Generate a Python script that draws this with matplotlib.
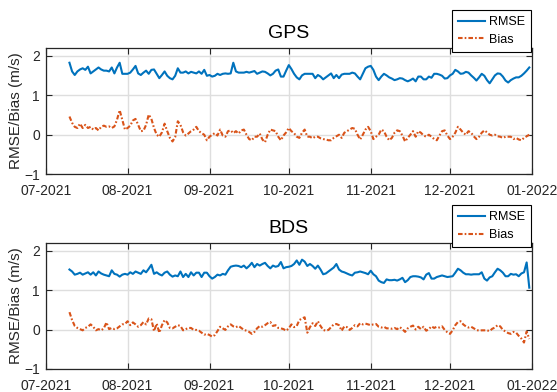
import numpy as np
import pandas as pd
import matplotlib
matplotlib.use('Agg')
import matplotlib.pyplot as plt
import matplotlib.dates as mdates

plt.rcParams['font.family'] = ['Liberation Sans', 'DejaVu Sans']

days = pd.date_range('2021-07-10', '2021-12-31', freq='D')

gps_rmse = [
    1.82, 1.60, 1.51, 1.60, 1.65, 1.68, 1.64, 1.72, 1.55, 1.60,
    1.65, 1.70, 1.65, 1.62, 1.62, 1.60, 1.70, 1.55, 1.70, 1.82,
    1.54, 1.54, 1.54, 1.57, 1.65, 1.74, 1.55, 1.51, 1.57, 1.62,
    1.54, 1.64, 1.65, 1.54, 1.43, 1.51, 1.60, 1.49, 1.43, 1.40,
    1.49, 1.68, 1.57, 1.57, 1.60, 1.55, 1.59, 1.57, 1.55, 1.60,
    1.54, 1.64, 1.49, 1.51, 1.47, 1.49, 1.54, 1.51, 1.54, 1.55,
    1.54, 1.55, 1.82, 1.60, 1.57, 1.57, 1.57, 1.59, 1.57, 1.59,
    1.61, 1.54, 1.57, 1.60, 1.59, 1.55, 1.50, 1.54, 1.62, 1.65,
    1.47, 1.47, 1.62, 1.76, 1.66, 1.54, 1.45, 1.40, 1.50, 1.54,
    1.54, 1.54, 1.54, 1.43, 1.51, 1.47, 1.40, 1.45, 1.50, 1.55,
    1.43, 1.51, 1.43, 1.52, 1.54, 1.54, 1.54, 1.57, 1.55, 1.47,
    1.40, 1.54, 1.68, 1.72, 1.74, 1.64, 1.47, 1.38, 1.47, 1.54,
    1.50, 1.45, 1.42, 1.38, 1.40, 1.43, 1.42, 1.38, 1.35, 1.38,
    1.42, 1.35, 1.47, 1.47, 1.40, 1.40, 1.47, 1.44, 1.54, 1.54,
    1.52, 1.49, 1.42, 1.43, 1.50, 1.54, 1.64, 1.60, 1.54, 1.55,
    1.59, 1.57, 1.50, 1.44, 1.37, 1.45, 1.54, 1.49, 1.38, 1.30,
    1.40, 1.50, 1.55, 1.54, 1.47, 1.37, 1.32, 1.38, 1.42, 1.45,
    1.45, 1.49, 1.55, 1.62, 1.70,
]
gps_bias = [
    0.46, 0.30, 0.20, 0.17, 0.28, 0.17, 0.25, 0.17, 0.20, 0.13,
    0.17, 0.11, 0.20, 0.23, 0.20, 0.21, 0.17, 0.21, 0.38, 0.62,
    0.38, 0.13, 0.17, 0.23, 0.36, 0.40, 0.25, 0.09, 0.10, 0.25,
    0.51, 0.40, 0.17, 0.00, -0.05, 0.06, 0.28, 0.09, -0.08, -0.17,
    -0.06, 0.34, 0.25, 0.06, -0.02, 0.03, 0.09, 0.13, 0.20, 0.09,
    0.04, 0.00, -0.14, -0.05, 0.00, 0.04, -0.02, 0.13, -0.02, -0.05,
    0.09, 0.11, 0.04, 0.09, 0.03, 0.11, 0.13, 0.00, -0.11, -0.14,
    -0.05, -0.05, 0.03, -0.12, -0.19, 0.00, 0.13, 0.11, 0.09, -0.05,
    -0.14, -0.02, 0.06, 0.17, 0.09, 0.04, -0.05, -0.08, 0.05, 0.13,
    -0.05, -0.05, -0.09, -0.05, -0.05, -0.09, -0.11, -0.12, -0.14, -0.14,
    -0.08, -0.04, 0.00, -0.08, 0.05, 0.09, 0.13, 0.17, 0.15, 0.00,
    -0.12, 0.00, 0.13, 0.20, 0.09, -0.11, -0.05, 0.00, 0.13, 0.09,
    -0.05, -0.14, -0.08, 0.05, 0.11, 0.09, -0.02, -0.17, -0.08, 0.00,
    0.09, -0.05, 0.09, 0.05, -0.02, -0.05, 0.00, -0.05, -0.11, -0.14,
    -0.02, 0.09, 0.11, -0.02, -0.11, -0.05, 0.05, 0.20, 0.13, 0.05,
    0.00, 0.09, 0.05, -0.04, -0.11, -0.05, 0.05, 0.11, 0.06, 0.00,
    -0.02, 0.00, -0.04, -0.05, -0.08, -0.05, -0.05, -0.05, -0.11, -0.08,
    -0.12, -0.14, -0.08, -0.04, 0.00,
]
bds_rmse = [
    1.52, 1.47, 1.39, 1.41, 1.44, 1.39, 1.42, 1.45, 1.39, 1.45,
    1.37, 1.47, 1.42, 1.39, 1.37, 1.35, 1.50, 1.41, 1.39, 1.34,
    1.39, 1.41, 1.39, 1.45, 1.41, 1.47, 1.44, 1.41, 1.50, 1.45,
    1.54, 1.64, 1.41, 1.45, 1.40, 1.37, 1.44, 1.47, 1.39, 1.34,
    1.37, 1.35, 1.47, 1.33, 1.41, 1.33, 1.45, 1.37, 1.44, 1.44,
    1.33, 1.44, 1.44, 1.35, 1.29, 1.33, 1.39, 1.37, 1.41, 1.39,
    1.50, 1.59, 1.61, 1.62, 1.61, 1.58, 1.62, 1.55, 1.61, 1.69,
    1.58, 1.66, 1.62, 1.66, 1.69, 1.61, 1.55, 1.62, 1.59, 1.61,
    1.71, 1.55, 1.58, 1.59, 1.61, 1.66, 1.75, 1.64, 1.77, 1.72,
    1.61, 1.66, 1.61, 1.54, 1.62, 1.52, 1.40, 1.42, 1.47, 1.52,
    1.57, 1.66, 1.52, 1.47, 1.45, 1.42, 1.39, 1.37, 1.44, 1.45,
    1.47, 1.45, 1.43, 1.40, 1.49, 1.40, 1.35, 1.24, 1.20, 1.18,
    1.27, 1.25, 1.25, 1.26, 1.24, 1.27, 1.31, 1.20, 1.25, 1.33,
    1.35, 1.35, 1.34, 1.32, 1.27, 1.39, 1.43, 1.29, 1.29, 1.33,
    1.35, 1.37, 1.35, 1.33, 1.34, 1.35, 1.44, 1.54, 1.50, 1.44,
    1.40, 1.40, 1.39, 1.40, 1.40, 1.40, 1.45, 1.29, 1.24, 1.32,
    1.35, 1.45, 1.54, 1.50, 1.44, 1.35, 1.35, 1.41, 1.39, 1.40,
    1.35, 1.42, 1.45, 1.70, 1.06,
]
bds_bias = [
    0.44, 0.24, 0.09, 0.04, 0.01, -0.02, 0.04, 0.07, 0.13, 0.07,
    -0.02, 0.01, -0.02, 0.03, 0.18, 0.01, 0.04, 0.01, 0.03, 0.08,
    0.13, 0.14, 0.21, 0.11, 0.18, 0.13, 0.07, 0.11, 0.19, 0.13,
    0.28, 0.26, -0.04, 0.15, -0.08, 0.11, 0.24, 0.18, 0.04, 0.03,
    0.07, 0.11, 0.09, -0.02, 0.01, 0.04, 0.04, -0.01, -0.01, -0.03,
    -0.08, -0.13, -0.11, -0.14, -0.18, -0.14, -0.04, 0.07, 0.03, -0.01,
    0.08, 0.13, 0.08, 0.06, 0.09, 0.04, -0.01, -0.03, -0.06, -0.11,
    -0.06, 0.03, 0.09, 0.07, 0.11, 0.16, 0.19, 0.09, 0.11, 0.04,
    0.03, 0.01, -0.03, 0.03, 0.13, 0.06, 0.09, 0.24, 0.28, 0.31,
    -0.08, 0.06, 0.16, 0.09, 0.21, 0.09, -0.01, -0.03, -0.01, 0.06,
    0.13, 0.14, 0.11, -0.03, 0.08, 0.06, -0.01, 0.04, 0.11, 0.08,
    0.16, 0.13, 0.15, 0.13, 0.11, 0.13, 0.14, 0.07, 0.05, 0.07,
    0.03, 0.03, 0.02, 0.04, 0.01, 0.06, 0.01, -0.06, 0.03, 0.07,
    0.10, 0.00, 0.07, 0.01, 0.07, -0.03, 0.01, 0.08, 0.04, 0.07,
    0.05, 0.08, -0.01, -0.07, -0.11, -0.02, 0.11, 0.19, 0.21, 0.13,
    0.08, 0.05, 0.07, 0.03, -0.01, -0.03, -0.02, -0.02, -0.02, -0.04,
    0.02, 0.05, 0.11, 0.08, -0.01, -0.05, -0.09, -0.11, -0.06, -0.08,
    -0.16, -0.23, -0.33, -0.05, -0.24,
]

BLUE = '#0072BD'
ORANGE = '#D95319'
AXCOL = '#262626'


def draw_panel(ax, rmse, bias, title, legend_anchor):
    ax.plot(days, rmse, color=BLUE, lw=1.5, label='RMSE')
    ax.plot(days, bias, color=ORANGE, lw=1.5, linestyle=(0, (2.2, 1.0, 0.8, 1.0)),
            label='Bias')

    ax.set_xlim(pd.Timestamp('2021-07-01'), pd.Timestamp('2022-01-01'))
    ax.set_ylim(-1, 2.2)
    ax.set_yticks([-1, 0, 1, 2])
    ax.xaxis.set_major_locator(mdates.MonthLocator())
    ax.xaxis.set_major_formatter(mdates.DateFormatter('%m-%Y'))

    ax.grid(True, color='#dedede', lw=1.0)
    ax.set_axisbelow(True)
    ax.tick_params(direction='in', length=4, width=0.8, colors=AXCOL,
                   labelsize=10, top=True, right=True)
    ax.tick_params(axis='x', pad=7)
    ax.tick_params(axis='y', pad=4)
    for sp in ax.spines.values():
        sp.set_color(AXCOL)
        sp.set_linewidth(0.9)

    ax.set_ylabel('RMSE/Bias (m/s)', fontsize=11, color=AXCOL)
    ax.yaxis.set_label_coords(-0.046, 0.5)
    ax.set_title(title, fontsize=14, color='black', pad=7)

    leg = ax.legend(loc='upper right', bbox_to_anchor=legend_anchor,
                    bbox_transform=ax.figure.transFigure, fontsize=9,
                    frameon=True, fancybox=False, framealpha=1,
                    handlelength=2.2, handletextpad=0.25, borderpad=0.5,
                    labelspacing=0.45, borderaxespad=0)
    leg.get_frame().set_edgecolor('black')
    leg.get_frame().set_linewidth(0.8)


fig = plt.figure(figsize=(5.57, 3.92), dpi=100)
ax1 = fig.add_axes([0.082, 0.5554, 0.873, 0.3229])
ax2 = fig.add_axes([0.082, 0.0587, 0.873, 0.3222])

draw_panel(ax1, gps_rmse, gps_bias, 'GPS', (0.953, 0.975))
draw_panel(ax2, bds_rmse, bds_bias, 'BDS', (0.953, 0.477))

fig.savefig('out.png', dpi=100)
